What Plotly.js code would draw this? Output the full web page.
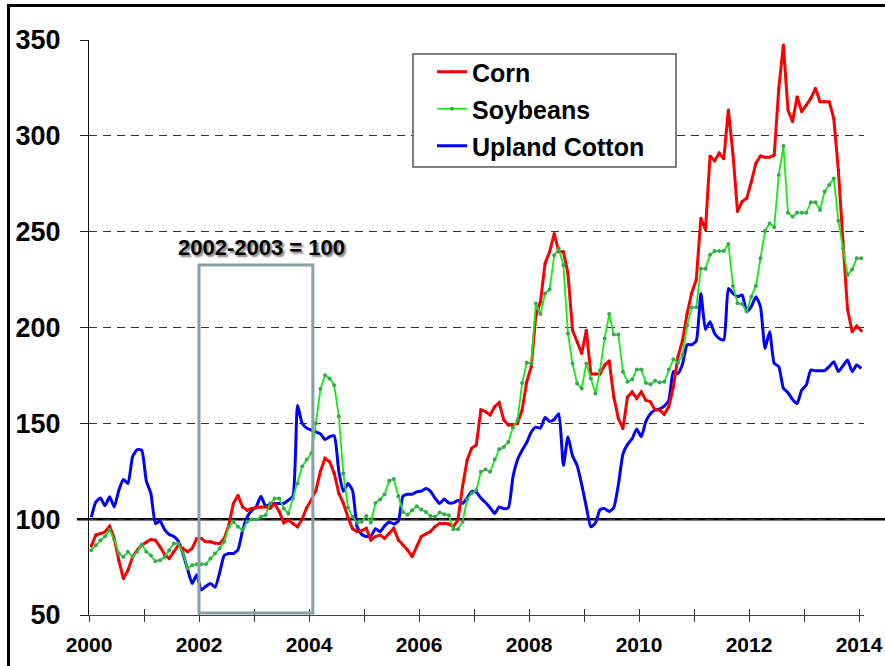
<!DOCTYPE html>
<html>
<head>
<meta charset="utf-8">
<script src="https://cdn.plot.ly/plotly-3.0.1.min.js"></script>
<style>
  html, body { margin: 0; padding: 0; background: #ffffff; }
  #chart { width: 885px; height: 666px; }
</style>
</head>
<body>
<div id="chart"></div>
<script>
// Monthly series, Jan 2000 .. Jan 2014, index 2002-2003 = 100
const startYear = 2000;
const seriesNames = ["Corn", "Soybeans", "Upland Cotton"];

const corn = [
  86, 91.7, 92.5, 93.4, 96.3, 89.9, 78.6, 69, 73.4, 80.3, 83.8, 86.4,
  88, 89.4, 89, 85.6, 81.5, 79.5, 83, 86.4, 84.7, 83, 84.7, 89.9,
  89.9, 88.2, 88.2, 87.5, 87.3, 89.9, 96.9, 108.2, 112.5, 106.4, 104.7, 105.6,
  106, 106.4, 106.4, 105.6, 108.2, 104, 98.1, 99.5, 97.7, 96, 100, 106,
  110, 115, 125, 131.7, 130, 124, 113.5, 108.3, 101, 95, 93.5, 94,
  95.2, 89.1, 90.9, 91.7, 90, 92.6, 95.2, 89.1, 86.5, 83.9, 80.4, 85.7,
  90.9, 92.3, 93.5, 96.1, 97.8, 97.8, 97.5, 96.1, 99.6, 117, 130.9, 137,
  138.7, 157, 156.1, 154.3, 158.7, 160.8, 151.7, 149.1, 149.1, 150, 157, 171.7,
  179.5, 206.4, 213.4, 233.4, 239.5, 249, 239.5, 239.5, 228.2, 198.6, 192.5, 186.4,
  198.6, 175.7, 175.7, 175.7, 180.3, 182.6, 163.8, 152.5, 147.3, 163.8, 166.4, 163,
  166.4, 162.1, 161.2, 156.9, 156.9, 154.8, 158.6, 169, 184.7, 193.4, 207.3, 218,
  225, 257, 251, 289.5, 287, 291, 288, 313.5, 290.5, 260.5, 265.7, 267.4,
  276, 285.7, 289.5, 288.8, 288.8, 290, 324.8, 347.4, 313.5, 307.4, 320.4, 312.6,
  316, 319.6, 324.8, 317.8, 317.8, 317.8, 309, 282, 245, 209.5, 197.8, 200.8,
  198.3
];

const soybeans = [
  83.8, 86.4, 89, 91.1, 94.3, 89.4, 82.1, 80.3, 83, 80.3, 83, 86.8,
  83, 81, 78, 78.6, 80.3, 83.8, 87.3, 87.3, 82.1, 74.3, 76, 76.5,
  76.5, 76.5, 79.5, 82.1, 84.7, 88.2, 96, 98.6, 96, 94.3, 98.6, 99.8,
  99.8, 101.2, 102.1, 108.2, 110.8, 110.8, 105.6, 103, 110.8, 118.6, 127.5, 131,
  134.3, 150, 168, 175.1, 173.4, 169.9, 153.7, 123.8, 106.1, 101.2, 98.1, 98.6,
  101.6, 98.3, 108.5, 110.3, 113, 120, 120.9, 112, 103.8, 102.3, 104.7, 106.8,
  105, 103.8, 101.6, 101.2, 103.5, 102.6, 102.1, 94.8, 94.8, 98.6, 110.3, 113.5,
  115.1, 124.7, 125.9, 124.7, 131.1, 136.5, 137.7, 140.3, 147.8, 151.7, 171, 181.6,
  181.2, 212.5, 207, 217.7, 219.8, 237.7, 241.2, 232.5, 196.9, 181.2, 170.8, 168.2,
  181.2, 173.4, 165.6, 177.7, 194.3, 207, 196.3, 196.3, 176.9, 171.7, 172.9, 178.1,
  178.1, 171.1, 170.4, 172.2, 171.3, 171.7, 178.1, 183.5, 181.6, 185.6, 201, 210.4,
  210.6, 230.7, 230.7, 238, 239.9, 239.9, 239.9, 243.6, 221.7, 212.6, 212.3, 208.3,
  216.1, 221.7, 236.1, 250.3, 254.3, 252.3, 279.6, 294.7, 259.9, 257.8, 259.9, 259.9,
  259.9, 265.3, 265.3, 261.3, 270.9, 274.3, 277.8, 255.7, 241.3, 227.4, 230.3, 236.1,
  236.1
];

const cotton = [
  101, 109, 111, 107, 111.7, 106.4, 115, 120.7, 118.6, 132.5, 136.3, 136,
  120, 113.4, 97.7, 99.1, 94.5, 92, 91, 88.5, 82, 74, 66.4, 71,
  63, 65, 66.5, 64.5, 72, 81, 82.1, 82.1, 84, 94, 101, 104.5,
  106.5, 112, 107, 107.5, 108.2, 108.2, 108.2, 109.9, 112, 159.5, 150, 147.5,
  146.5, 145.5, 144.5, 141.5, 143, 143.5, 125, 114.5, 118.6, 115, 96, 92,
  91, 91, 95, 93.5, 96.5, 98.5, 97.5, 99, 112, 113, 113, 114.3,
  114.6, 116, 114.5, 111, 108.2, 110.5, 108.5, 108.5, 109.9, 108.2, 111, 114.5,
  114, 111, 108.7, 106, 103, 106.4, 105.5, 106, 122, 131, 136, 140,
  145.5, 148, 147.5, 153, 151, 152, 155, 128, 143, 133, 128, 118,
  106.4, 96, 98, 105, 105.5, 104, 106, 118, 134, 139, 142, 147,
  143, 151, 155, 157, 157.5, 159, 162, 177, 176, 181, 191, 191,
  193, 217.7, 199, 203, 196.9, 194.3, 193.5, 220.4, 217.8, 216.1, 217, 208.3,
  210.9, 216.1, 210.9, 189.1, 197.8, 181.3, 179.6, 168.3, 166, 162.5, 160.4, 167.4,
  170, 177.8, 177.5, 177.5, 177.5, 179.6, 182.2, 177, 180, 183, 177, 180.4,
  178.7
];

const yearTicks = [2000, 2001, 2002, 2003, 2004, 2005, 2006, 2007, 2008, 2009, 2010, 2011, 2012, 2013, 2014];
const yearLabels = ["2000", "", "2002", "", "2004", "", "2006", "", "2008", "", "2010", "", "2012", "", "2014"];
const valueTicks = [50, 100, 150, 200, 250, 300, 350];
const valueLabels = ["50", "100", "150", "200", "250", "300", "350"];
const baseNote = "2002-2003 = 100";

// mid-month positions in decimal years
const months = corn.map((_, i) => startYear + (i + 0.5) / 12);

const FONT = "Liberation Sans, Arial, Helvetica, sans-serif";

const traces = [
  {
    x: months, y: cotton, name: seriesNames[2], type: "scatter", mode: "lines",
    line: { color: "#0000ff", width: 3, shape: "spline", smoothing: 0.5 },
    legendrank: 3, legendgroup: "c"
  },
  {
    x: months, y: corn, name: seriesNames[0], type: "scatter", mode: "lines+markers",
    line: { color: "#ff0000", width: 3 },
    marker: { color: "#e00000", size: 3, symbol: "circle" },
    legendrank: 1, legendgroup: "a"
  },
  {
    x: months, y: soybeans, name: seriesNames[1], type: "scatter", mode: "lines+markers",
    line: { color: "#10ee10", width: 1.8 },
    marker: { color: "#3aa655", size: 4, symbol: "circle" },
    legendrank: 2, legendgroup: "b"
  },
  // helper trace so the inner-tick axis exists
  {
    x: [2000, 2014], y: [50, 50], xaxis: "x2", yaxis: "y", type: "scatter", mode: "lines",
    line: { width: 0, color: "rgba(0,0,0,0)" }, showlegend: false, hoverinfo: "skip"
  }
];

const L = 89, R = 21, T = 40, B = 51;
const plotW = 885 - L - R;
const xEnd = 2000 + plotW / 55;
const px = v => (v - L) / plotW;          // pixel x -> paper x
const py = v => 1 - (v - T) / (666 - T - B); // pixel y -> paper y

const layout = {
  width: 885, height: 666,
  margin: { l: L, r: R, t: T, b: B, pad: 0 },
  paper_bgcolor: "#ffffff", plot_bgcolor: "#ffffff",
  showlegend: true,
  font: { family: FONT, color: "#000000" },
  xaxis: {
    range: [2000, xEnd], type: "linear",
    tickvals: yearTicks, ticktext: yearLabels,
    ticks: "outside", ticklen: 6, tickwidth: 1, tickcolor: "#333333",
    showline: true, linecolor: "#444444", linewidth: 1,
    showgrid: false, zeroline: false, automargin: false,
    tickfont: { family: FONT, size: 21, weight: "bold", color: "#000000" },
    ticklabelstandoff: 5
  },
  xaxis2: {
    range: [2000, xEnd], type: "linear", overlaying: "x", anchor: "y",
    tickvals: yearTicks, ticks: "inside", ticklen: 6, tickwidth: 1, tickcolor: "#333333",
    showticklabels: false, showline: false, showgrid: false, zeroline: false, automargin: false
  },
  yaxis: {
    range: [50, 350], type: "linear",
    tickvals: valueTicks, ticktext: valueLabels,
    ticks: "outside", ticklen: 8, tickwidth: 1, tickcolor: "#222222",
    showline: true, linecolor: "#111111", linewidth: 1,
    showgrid: true, gridcolor: "#333333", gridwidth: 1, griddash: "8px,6px",
    zeroline: false, automargin: false,
    tickfont: { family: FONT, size: 27, weight: "bold", color: "#000000" },
    ticklabelstandoff: 14
  },
  legend: {
    x: px(432), y: py(49), xanchor: "left", yanchor: "top",
    bgcolor: "rgba(0,0,0,0)", borderwidth: 0,
    font: { family: FONT, size: 25, weight: "bold", color: "#000000" },
    traceorder: "grouped", tracegroupgap: 1.5
  },
  shapes: [
    // outer frame of the figure
    { type: "rect", xref: "paper", yref: "paper",
      x0: px(8.5), x1: 1.5, y0: -0.5, y1: py(5.5),
      line: { color: "#000000", width: 3 }, fillcolor: "rgba(0,0,0,0)", layer: "above" },
    // index = 100 reference line
    { type: "line", xref: "paper", yref: "y",
      x0: px(77), x1: px(886), y0: 100, y1: 100,
      line: { color: "#000000", width: 2.5 }, layer: "between" },
    // base period box
    { type: "rect", xref: "x", yref: "y",
      x0: 2002, x1: 2004.07, y0: 51, y1: 232.6,
      line: { color: "#86a0a4", width: 3 }, fillcolor: "rgba(0,0,0,0)", layer: "above" },
    // legend frame
    { type: "rect", xref: "paper", yref: "paper",
      x0: px(413), x1: px(676), y0: py(167), y1: py(54),
      line: { color: "#555555", width: 1.5 }, fillcolor: "#ffffff", layer: "above" }
  ],
  annotations: [
    { xref: "x", yref: "y", x: 2003.14, y: 242, text: baseNote, showarrow: false,
      xanchor: "center", yanchor: "middle",
      font: { family: FONT, size: 22, weight: "bold", color: "#000000",
              shadow: "2px 2px 2px #808080" } }
  ]
};

Plotly.newPlot("chart", traces, layout, { staticPlot: true, displayModeBar: false });
</script>
</body>
</html>
